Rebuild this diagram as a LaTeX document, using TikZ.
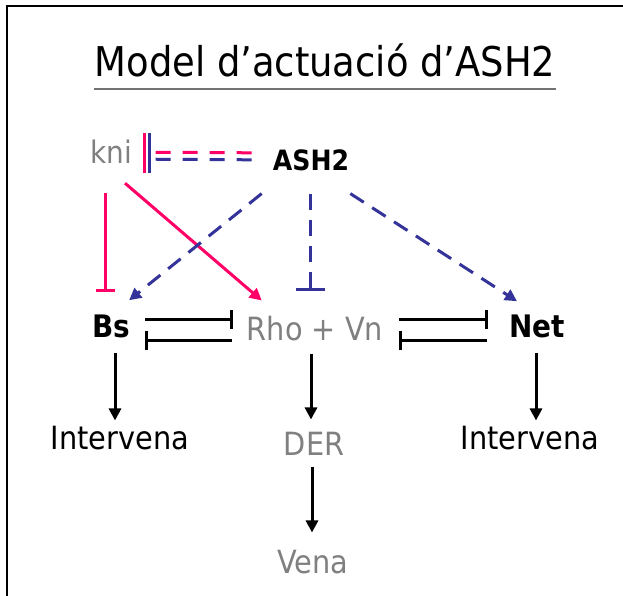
\documentclass[tikz,border=0pt]{standalone}
\usepackage{fontspec}
\setmainfont{DejaVu Sans Condensed}
\usetikzlibrary{arrows.meta, calc}
\definecolor{knipink}{HTML}{FF0066}
\definecolor{ashblue}{HTML}{333399}
\definecolor{txtgray}{HTML}{808080}

\tikzset{
  lbl/.style={inner sep=0pt, anchor=base, font=\fontsize{32}{36}\selectfont},
  gene/.style={lbl, font=\fontsize{31}{36}\selectfont\bfseries},
  faint/.style={lbl, text=txtgray},
  act/.style={line width=3pt, -{Triangle[width=12pt,length=12pt]}},
  inh/.style={line width=3pt, -{Bar[width=#1,line width=3pt]}},
  inh/.default=19pt,
  dsh/.style={dash pattern=on 16pt off 10pt},
}

\begin{document}
\begin{tikzpicture}[x=1pt,y=-1pt]
    \useasboundingbox (0,0) rectangle (623,596);
    \draw[line width=2.5pt] (7,596) -- (7,6) -- (623,6);

    % title
    \node[lbl, font=\fontsize{41}{48}\selectfont] (title) at (325,77) {Model d’actuació d’ASH2};
    \draw[black!55, line width=2pt] ($(title.base west)+(0,12)$) -- ($(title.base east)+(0,12)$);

    % genes
    \node[faint, font=\fontsize{31}{36}\selectfont] (kni) at (111,164) {kni};
    \node[gene, font=\fontsize{28}{32}\selectfont\bfseries] (ash) at (311,171) {ASH2};
    \node[gene] (bs) at (111,337) {Bs};
    \node[faint] (rho) at (315,340) {Rho + Vn};
    \node[gene] (net) at (537,337) {Net};
    \node[lbl] (intl) at (120,449) {Intervena};
    \node[faint] (der) at (314,455) {DER};
    \node[lbl] (intr) at (530,449) {Intervena};
    \node[faint] (vena) at (313,573) {Vena};

    % kni <-> ASH2
    \draw[knipink, line width=3pt, dash pattern=on 15pt off 12pt] ($(ash.west)+(-21,-8)$) -- ($(kni.east)+(16,0)$);
    \draw[ashblue, line width=3pt, dash pattern=on 15pt off 12pt] ($(ash.west)+(-21,-1)$) -- ($(kni.east)+(20,7)$);
    \draw[knipink, line width=3.3pt] ($(kni.east)+(12.5,-19)$) -- ++(0,40);
    \draw[ashblue, line width=3.3pt] ($(kni.east)+(17.5,-19)$) -- ++(0,40);

    % kni
    \draw[knipink, inh] ($(kni.south)+(-6,29)$) -- ($(bs.north)+(-6,-22)$);
    \draw[knipink, act] ($(kni.south)+(14,19)$) -- ($(rho.north west)+(15,-15)$);

    % ASH2
    \draw[ashblue, act, dsh] ($(ash.south west)+(-11,22)$) -- ($(bs.north east)+(-1,-14)$);
    \draw[ashblue, inh=29pt, dsh] ($(ash.south)+(-1,22)$) -- ($(rho.north)+(-5,-24)$);
    \draw[ashblue, act, dsh] ($(ash.south east)+(1,22)$) -- ($(net.north west)+(8,-13)$);

    % Bs -| Rho + Vn -| Net
    \draw[inh] ($(bs.east)+(15,-6)$) -- ($(rho.west |- bs.east)+(-14,-6)$);
    \draw[inh] ($(rho.west |- bs.east)+(-15,15)$) -- ($(bs.east)+(15,15)$);
    \draw[inh] ($(rho.east |- net.west)+(16,-6)$) -- ($(net.west)+(-21,-6)$);
    \draw[inh] ($(net.west)+(-22,15)$) -- ($(rho.east |- net.west)+(16,15)$);

    % targets
    \draw[act] ($(bs.south)+(4,15)$) -- ($(bs.south |- intl.north)+(4,-5)$);
    \draw[act] ($(rho.south)+(-4,13)$) -- ($(rho.south |- der.north)+(-4,-12)$);
    \draw[act] ($(net.south)+(-1,15)$) -- ($(net.south |- intr.north)+(-1,-5)$);
    \draw[act] ($(der.south)+(-2,12)$) -- ($(der.south |- vena.north)+(-2,-17)$);
\end{tikzpicture}
\end{document}
